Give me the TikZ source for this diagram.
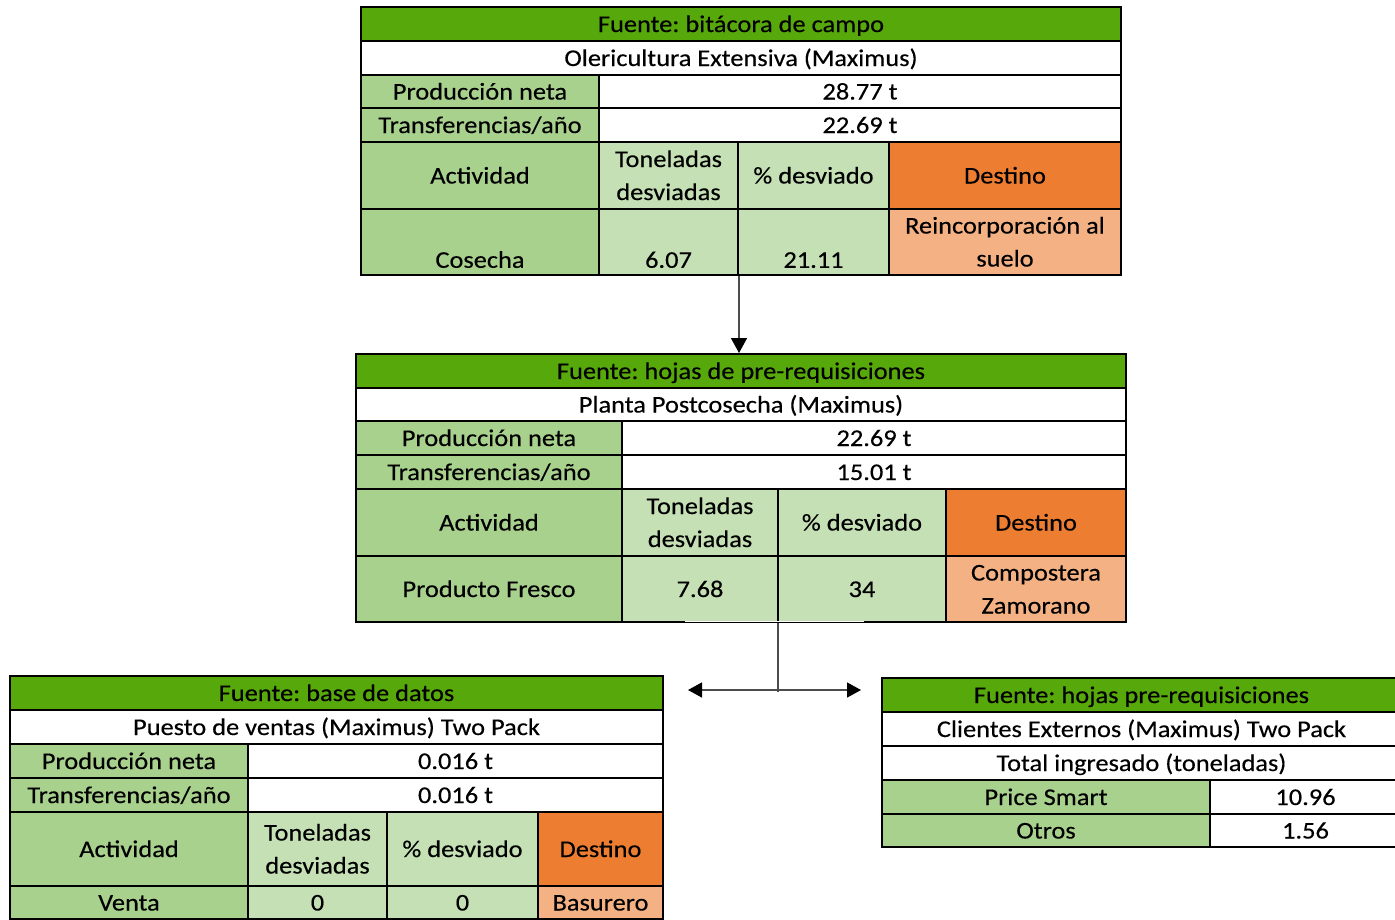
\documentclass[tikz,border=0pt]{standalone}
\usepackage{fontspec}
\setmainfont{Carlito}[FakeStretch=1.1,FakeBold=0.3]
\usetikzlibrary{arrows.meta,calc}
\definecolor{hdr}{HTML}{57A80B}
\definecolor{medg}{HTML}{A9D18E}
\definecolor{ltg}{HTML}{C5E0B4}
\definecolor{org}{HTML}{ED7D31}
\definecolor{lorg}{HTML}{F4B183}
\newcommand\cstrut{\rule[-8.5pt]{0pt}{33pt}}
\newcommand\tcell[7]{\node[cellbox, fill=#6, minimum width={#4-#2}, minimum height={#5-#3}, anchor=north west] (#1) at (#2,#3) {\cstrut #7\cstrut};}
\frenchspacing
\begin{document}
\begin{tikzpicture}[x=1pt,y=-1pt,
  cellbox/.style={draw=black, line width=2pt, rectangle, inner sep=0pt, align=center,
    font={\fontsize{24}{33}\selectfont\frenchspacing}},
  lab/.style={anchor=south, inner sep=0pt, text height=16pt, text depth=0pt, yshift=8pt,
    font={\fontsize{24}{33}\selectfont}},
  conn/.style={draw=black!70, line width=1.5pt},
  tip/.style={-{Triangle[length=15pt,width=16pt,color=black]}}]
\clip (0,0) rectangle (1395,919);
\fill[white] (0,0) rectangle (1395,919);
% ---------- top table ----------
\tcell{t1h}{360}{6}{1120}{40}{hdr}{Fuente: bitácora de campo}
\tcell{t1n}{360}{40}{1120}{74}{white}{Olericultura Extensiva (Maximus)}
\tcell{t1pl}{360}{74}{598}{107}{medg}{Producción neta}
\tcell{t1pv}{598}{74}{1120}{107}{white}{28.77 t}
\tcell{t1tl}{360}{107}{598}{141}{medg}{Transferencias/año}
\tcell{t1tv}{598}{107}{1120}{141}{white}{22.69 t}
\tcell{t1a}{360}{141}{598}{208}{medg}{Actividad}
\tcell{t1b}{598}{141}{737}{208}{ltg}{Toneladas\\desviadas}
\tcell{t1c}{737}{141}{888}{208}{ltg}{\% desviado}
\tcell{t1d}{888}{141}{1120}{208}{org}{Destino}
\node[cellbox, fill=medg, minimum width=238, minimum height=66, anchor=north west,
  label={[lab]south:Cosecha}] (t1e) at (360,208) {};
\node[cellbox, fill=ltg, minimum width=139, minimum height=66, anchor=north west,
  label={[lab]south:6.07}] (t1f) at (598,208) {};
\node[cellbox, fill=ltg, minimum width=151, minimum height=66, anchor=north west,
  label={[lab]south:21.11}] (t1g) at (737,208) {};
\tcell{t1k}{888}{208}{1120}{274}{lorg}{Reincorporación al\\suelo}
% ---------- middle table ----------
\tcell{t2h}{355}{353}{1125}{387}{hdr}{Fuente: hojas de pre-requisiciones}
\tcell{t2n}{355}{387}{1125}{420}{white}{Planta Postcosecha (Maximus)}
\tcell{t2pl}{355}{420}{621}{454}{medg}{Producción neta}
\tcell{t2pv}{621}{420}{1125}{454}{white}{22.69 t}
\tcell{t2tl}{355}{454}{621}{488}{medg}{Transferencias/año}
\tcell{t2tv}{621}{454}{1125}{488}{white}{15.01 t}
\tcell{t2a}{355}{488}{621}{555}{medg}{Actividad}
\tcell{t2b}{621}{488}{777}{555}{ltg}{Toneladas\\desviadas}
\tcell{t2c}{777}{488}{945}{555}{ltg}{\% desviado}
\tcell{t2d}{945}{488}{1125}{555}{org}{Destino}
\tcell{t2e}{355}{555}{621}{621}{medg}{Producto Fresco}
\tcell{t2f}{621}{555}{777}{621}{ltg}{7.68}
\tcell{t2g}{777}{555}{945}{621}{ltg}{34}
\tcell{t2k}{945}{555}{1125}{621}{lorg}{Compostera\\Zamorano}
\draw[white, line width=1pt] (685,621.9) -- (864,621.9);
% ---------- bottom-left table ----------
\tcell{t3h}{9}{675}{662}{709}{hdr}{Fuente: base de datos}
\tcell{t3n}{9}{709}{662}{743}{white}{Puesto de ventas (Maximus) Two Pack}
\tcell{t3pl}{9}{743}{247}{777}{medg}{Producción neta}
\tcell{t3pv}{247}{743}{662}{777}{white}{0.016 t}
\tcell{t3tl}{9}{777}{247}{811}{medg}{Transferencias/año}
\tcell{t3tv}{247}{777}{662}{811}{white}{0.016 t}
\tcell{t3a}{9}{811}{247}{885}{medg}{Actividad}
\tcell{t3b}{247}{811}{386}{885}{ltg}{Toneladas\\desviadas}
\tcell{t3c}{386}{811}{537}{885}{ltg}{\% desviado}
\tcell{t3d}{537}{811}{662}{885}{org}{Destino}
\tcell{t3e}{9}{885}{247}{918}{medg}{Venta}
\tcell{t3f}{247}{885}{386}{918}{ltg}{0}
\tcell{t3g}{386}{885}{537}{918}{ltg}{0}
\tcell{t3k}{537}{885}{662}{918}{lorg}{Basurero}
% ---------- right table ----------
\tcell{t4h}{881}{677}{1400}{711}{hdr}{Fuente: hojas pre-requisiciones}
\tcell{t4n}{881}{711}{1400}{745}{white}{Clientes Externos (Maximus) Two Pack}
\tcell{t4t}{881}{745}{1400}{779}{white}{Total ingresado (toneladas)}
\tcell{t4pl}{881}{779}{1209}{813}{medg}{Price Smart}
\tcell{t4pv}{1209}{779}{1400}{813}{white}{10.96}
\tcell{t4ol}{881}{813}{1209}{846}{medg}{Otros}
\tcell{t4ov}{1209}{813}{1400}{846}{white}{1.56}
% ---------- connectors ----------
\draw[conn, tip] (t1f.south east) -- (t1f.south east |- t2h.north);
\coordinate (jn) at ($(t2f.south east)+(-1,69)$);
\coordinate (la) at (688,690);
\coordinate (ra) at (861,690);
\draw[conn] ($(t2f.south east)+(-1,0)$) -- (jn);
\draw[conn, {Triangle[length=14pt,width=15pt,color=black]}-{Triangle[length=14pt,width=15pt,color=black]}] (la) -- (ra);
\end{tikzpicture}
\end{document}
